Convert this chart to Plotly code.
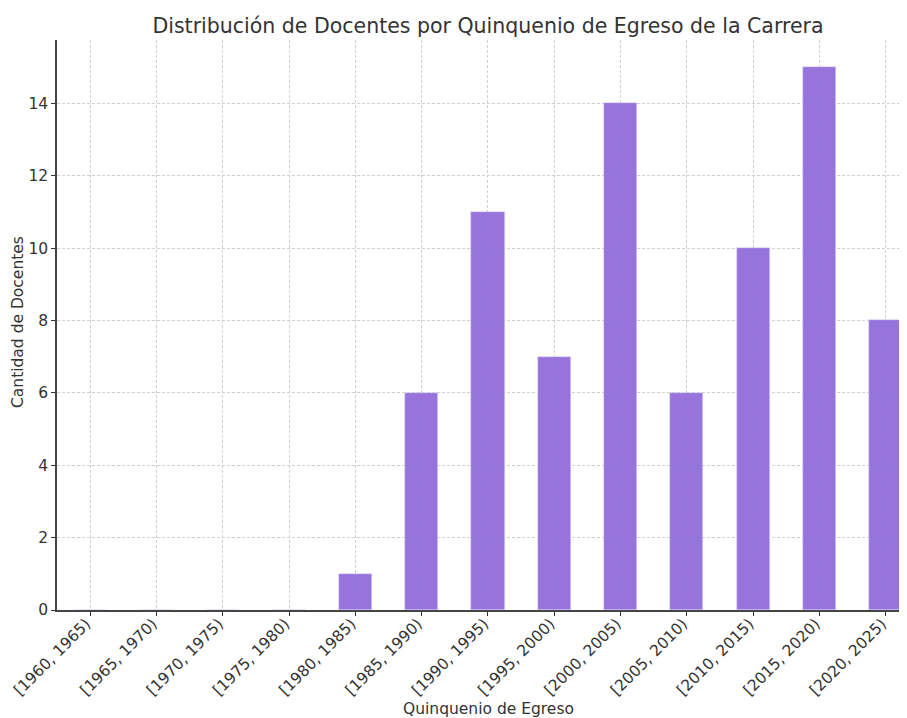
import plotly.graph_objects as go

categories = ["[1960, 1965)", "[1965, 1970)", "[1970, 1975)", "[1975, 1980)",
              "[1980, 1985)", "[1985, 1990)", "[1990, 1995)", "[1995, 2000)",
              "[2000, 2005)", "[2005, 2010)", "[2010, 2015)", "[2015, 2020)",
              "[2020, 2025)"]
counts = [0, 0, 0, 0, 1, 6, 11, 7, 14, 6, 10, 15, 8]
y_ticks = [0, 2, 4, 6, 8, 10, 12, 14]

txt = "#333333"
OFF = 8  # page body margin
W, H = 907 - OFF, 718 - OFF
pl, pr, pt, pb = 57 - OFF, W, 40 - OFF, 610 - OFF
pw, ph = pr - pl, pb - pt

fig = go.Figure()
fig.add_trace(go.Bar(
    x=list(range(len(categories))), y=counts, width=0.5,
    marker=dict(color="#9370DB", line=dict(color="rgba(225,215,250,0.9)", width=0.6)),
    opacity=0.97,
))
fig.update_layout(
    width=W, height=H,
    margin=dict(l=pl, r=W - pr, t=pt, b=H - pb, autoexpand=False),
    paper_bgcolor="white", plot_bgcolor="white",
    font=dict(family="DejaVu Sans", size=15, color=txt),
    title=dict(text="Distribución de Docentes por Quinquenio de Egreso de la Carrera",
               x=(488 - OFF) / W, xref="container", xanchor="center",
               y=1 - (26 - OFF) / H, yref="container", yanchor="middle",
               font=dict(size=20.5, color=txt)),
    showlegend=False,
    bargap=0,
    annotations=[
        dict(text="Quinquenio de Egreso", x=(488 - OFF - pl) / pw, y=(pb - (709 - OFF)) / ph,
             xref="paper", yref="paper",
             showarrow=False, xanchor="center", yanchor="middle",
             font=dict(size=15.5, color=txt)),
        dict(text="Cantidad de Docentes", x=(18 - OFF - pl) / pw, y=(pb - (322 - OFF)) / ph,
             xref="paper", yref="paper",
             showarrow=False, xanchor="center", yanchor="middle", textangle=-90,
             font=dict(size=15.5, color=txt)),
    ],
)

fig.update_xaxes(
    range=[-0.5, 12.32], tickmode="array", automargin=False,
    tickvals=list(range(len(categories))), ticktext=categories,
    tickangle=-45, ticks="outside", ticklen=4, tickcolor="#333",
    ticklabelshift=-4, ticklabelstandoff=-7,
    showline=True, linecolor="#444", linewidth=1.5,
    showgrid=True, gridcolor="#d0d0d0", griddash="3px,2px", gridwidth=1,
    zeroline=False,
    tickfont=dict(size=15.5, color=txt),
)
fig.update_yaxes(
    range=[0, 15.75], tickmode="array", tickvals=y_ticks, automargin=False,
    ticks="outside", ticklen=4, tickcolor="#333",
    showline=True, linecolor="#444", linewidth=1.5,
    showgrid=True, gridcolor="#d0d0d0", griddash="3px,2px", gridwidth=1,
    zeroline=False,
    tickfont=dict(size=15.5, color=txt),
)
fig.write_html("out.html")
